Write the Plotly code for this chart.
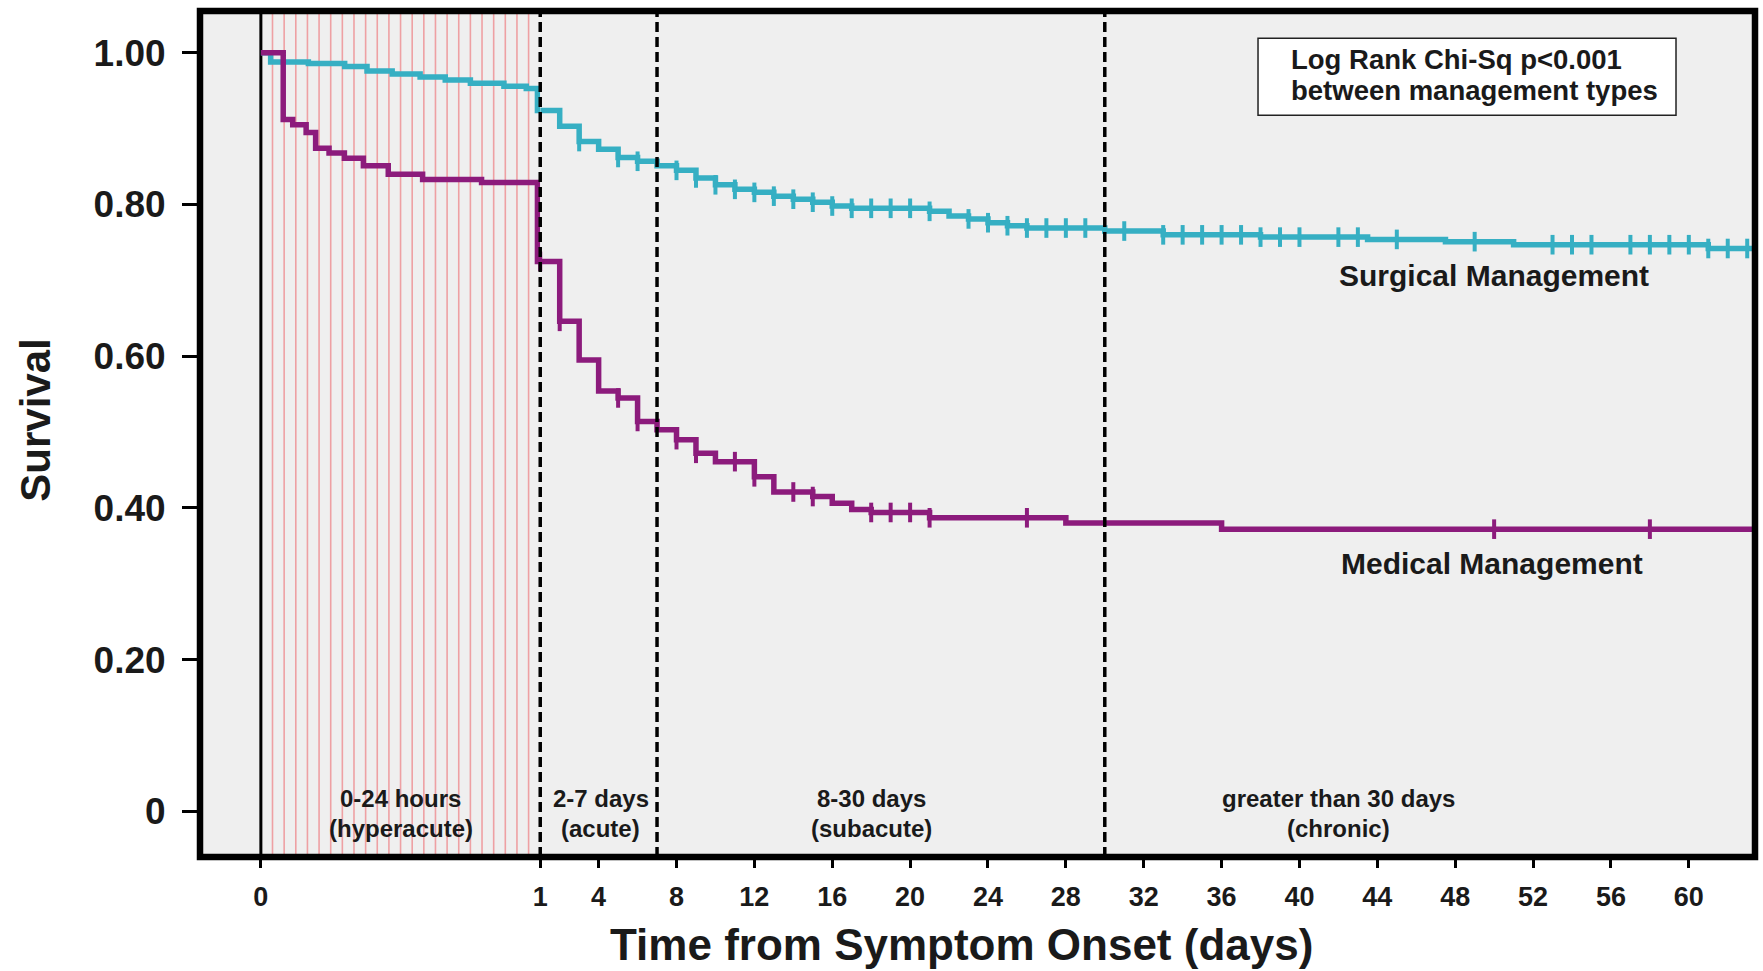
import plotly.graph_objects as go

# ---- Kaplan-Meier estimates: step times (days) and survival after each step ----
surg_times = [0, 0.035, 0.17, 0.30, 0.38, 0.47, 0.57, 0.66, 0.75, 0.87, 0.95, 0.99,
              2, 3, 4, 5, 6, 7, 8, 9, 10, 11, 12, 13, 14, 15, 16, 17,
              21, 22, 23, 24, 25, 26, 30, 33, 38, 43.5, 47.5, 51, 61]
surg_surv = [1.0, 0.988, 0.986, 0.982, 0.976, 0.972, 0.968, 0.964, 0.960, 0.956, 0.953, 0.924,
             0.903, 0.883, 0.873, 0.862, 0.857, 0.851, 0.845, 0.835, 0.826, 0.820, 0.816, 0.811,
             0.807, 0.803, 0.798, 0.795,
             0.791, 0.785, 0.781, 0.776, 0.772, 0.769, 0.765, 0.760, 0.757, 0.754, 0.751, 0.747, 0.742]
surg_censored = [3, 5, 6, 8, 9, 10, 11, 12, 13, 14, 15, 16, 17, 18, 19, 20, 21, 23, 24, 25,
                 26, 27, 28, 29, 31, 33, 34, 35, 36, 37, 38, 39, 40, 42, 43, 45, 49, 53, 54,
                 55, 57, 58, 59, 60, 61, 62, 63]

med_times = [0, 0.08, 0.114, 0.162, 0.196, 0.244, 0.299, 0.367, 0.456, 0.579, 0.79, 0.99,
             2, 3, 4, 5, 6, 7, 8, 9, 10, 12, 13, 15, 16, 17, 18, 21, 28, 36]
med_surv = [1.0, 0.912, 0.905, 0.895, 0.874, 0.868, 0.861, 0.851, 0.840, 0.833, 0.829, 0.725,
            0.646, 0.595, 0.554, 0.545, 0.514, 0.503, 0.490, 0.472, 0.461, 0.441, 0.421, 0.415,
            0.406, 0.398, 0.394, 0.387, 0.380, 0.372]
med_censored = [1, 2, 5, 6, 8, 9, 11, 12, 14, 15, 18, 19, 20, 21, 26, 50, 58]

follow_up_end = 63.4

# ---- axis ticks ----
y_ticks = [0, 0.2, 0.4, 0.6, 0.8, 1.0]
y_tick_labels = ["0", "0.20", "0.40", "0.60", "0.80", "1.00"]
day1_ticks = [0, 1]
day1_tick_labels = ["0", "1"]
later_ticks = [4, 8, 12, 16, 20, 24, 28, 32, 36, 40, 44, 48, 52, 56, 60]

# ---- phase labels ----
phase_names = ["0-24 hours", "2-7 days", "8-30 days", "greater than 30 days"]
phase_subtitles = ["(hyperacute)", "(acute)", "(subacute)", "(chronic)"]
phase_centers = [0.5, 4.1, 18.0, 42.0]
phase_bounds = [1, 7, 30]

SURG_COLOR = "#36afc3"
MED_COLOR = "#8c1b7c"
TEXT_COLOR = "#1a1a1a"
FONT = "Liberation Sans, Arial, sans-serif"
Y_RANGE = [-0.0602, 1.0551]


def surv_at(times, surv, t):
    """Right-continuous step-function value at time t."""
    val = surv[0]
    for ti, si in zip(times, surv):
        if ti <= t:
            val = si
    return val


def bold(size):
    return dict(family=FONT, size=size, color=TEXT_COLOR, weight="bold")


fig = go.Figure()


def add_curve(times, surv, censored, color):
    n1 = sum(1 for t in times if t <= 1)
    # first 24 hours on the stretched axis
    xa = times[:n1] + [1.0]
    ya = surv[:n1] + [surv[n1 - 1]]
    fig.add_trace(go.Scatter(x=xa, y=ya, mode="lines", xaxis="x", yaxis="y",
                             line=dict(color=color, width=5.5, shape="hv"),
                             showlegend=False, hoverinfo="skip"))
    # day 1 onwards
    xb = [1.0] + times[n1:] + [follow_up_end]
    yb = [surv[n1 - 1]] + surv[n1:] + [surv[-1]]
    fig.add_trace(go.Scatter(x=xb, y=yb, mode="lines", xaxis="x2", yaxis="y",
                             line=dict(color=color, width=5.5, shape="hv"),
                             showlegend=False, hoverinfo="skip"))
    # censoring ticks
    cy = [surv_at(times, surv, c) for c in censored]
    fig.add_trace(go.Scatter(x=censored, y=cy, mode="markers", xaxis="x2", yaxis="y",
                             marker=dict(symbol="line-ns", size=14,
                                         line=dict(width=4, color=color)),
                             cliponaxis=False, showlegend=False, hoverinfo="skip"))


add_curve(surg_times, surg_surv, surg_censored, SURG_COLOR)
add_curve(med_times, med_surv, med_censored, MED_COLOR)

shapes = []
# hourly guide lines through the hyperacute period
for h in range(1, 24):
    shapes.append(dict(type="line", xref="x", yref="y", x0=h / 24, x1=h / 24,
                       y0=Y_RANGE[0], y1=Y_RANGE[1],
                       line=dict(color="#eea0a3", width=1.6), layer="below"))
# symptom onset
shapes.append(dict(type="line", xref="x", yref="y", x0=0, x1=0, y0=Y_RANGE[0], y1=Y_RANGE[1],
                   line=dict(color="black", width=3), layer="below"))
# phase boundaries
shapes.append(dict(type="line", xref="x domain", yref="y domain", x0=1, x1=1, y0=0, y1=1,
                   line=dict(color="black", width=3.5, dash="10px,5px"), layer="above"))
for b in phase_bounds[1:]:
    shapes.append(dict(type="line", xref="x2", yref="y", x0=b, x1=b,
                       y0=Y_RANGE[0], y1=Y_RANGE[1],
                       line=dict(color="black", width=3.5, dash="10px,5px"), layer="above"))
# frame
shapes.append(dict(type="rect", xref="paper", yref="paper", x0=0, x1=1, y0=0, y1=1,
                   line=dict(color="black", width=6.5), fillcolor="rgba(0,0,0,0)", layer="above"))
# statistics box
shapes.append(dict(type="rect", xref="paper", yref="paper", x0=0.6804, x1=0.9492,
                   y0=0.8769, y1=0.9679, line=dict(color="#222", width=1.5),
                   fillcolor="white", layer="above"))

annotations = []
for name, sub, xc in zip(phase_names, phase_subtitles, phase_centers):
    xr = "x" if xc <= 1 else "x2"
    annotations.append(dict(text=name, x=xc, y=0.0163, xref=xr, yref="y", showarrow=False,
                            font=bold(24), xanchor="center", yanchor="middle"))
    annotations.append(dict(text=sub, x=xc, y=-0.0223, xref=xr, yref="y", showarrow=False,
                            font=bold(24), xanchor="center", yanchor="middle"))
annotations += [
    dict(text="Surgical Management", x=50.0, y=0.706, xref="x2", yref="y", showarrow=False,
         font=bold(30), xanchor="center", yanchor="middle"),
    dict(text="Medical Management", x=49.9, y=0.327, xref="x2", yref="y", showarrow=False,
         font=bold(30), xanchor="center", yanchor="middle"),
    dict(text="Log Rank Chi-Sq p<0.001", x=0.7005, y=0.9425, xref="paper", yref="paper",
         xanchor="left", yanchor="middle", showarrow=False, font=bold(27.5)),
    dict(text="between management types", x=0.7005, y=0.9063, xref="paper", yref="paper",
         xanchor="left", yanchor="middle", showarrow=False, font=bold(27.5)),
    dict(text="Survival", x=-0.1055, y=0.5168, xref="paper", yref="paper", textangle=-90,
         xanchor="center", yanchor="middle", showarrow=False, font=bold(42)),
    dict(text="Time from Symptom Onset (days)", x=0.490, y=-0.1035, xref="paper", yref="paper",
         xanchor="center", yanchor="middle", showarrow=False, font=bold(44)),
]

tick_font_x = bold(27)
tick_font_y = bold(37)

fig.update_layout(
    width=1763, height=971,
    margin=dict(l=200, r=8, t=11, b=114, autoexpand=False),
    paper_bgcolor="white", plot_bgcolor="#efefef",
    font=dict(family=FONT, color=TEXT_COLOR),
    showlegend=False,
    shapes=shapes, annotations=annotations,
    xaxis=dict(domain=[0, 0.2188], range=[-0.2179, 1], tickvals=day1_ticks,
               ticktext=day1_tick_labels, ticks="outside", ticklen=10, tickwidth=2.5,
               tickcolor="black", tickfont=tick_font_x, showgrid=False, zeroline=False,
               showline=False, anchor="y", fixedrange=True, automargin=False,
               ticklabelstandoff=6),
    xaxis2=dict(domain=[0.2188, 1], range=[1, follow_up_end], tickvals=later_ticks,
                ticks="outside", ticklen=10, tickwidth=2.5, tickcolor="black",
                tickfont=tick_font_x, showgrid=False, zeroline=False, showline=False,
                anchor="y", fixedrange=True, automargin=False, ticklabelstandoff=6),
    yaxis=dict(range=Y_RANGE, tickvals=y_ticks, ticktext=y_tick_labels, ticks="outside",
               ticklen=17, tickwidth=2.5, tickcolor="black", tickfont=tick_font_y,
               showgrid=False, zeroline=False, showline=False, ticklabelstandoff=9,
               fixedrange=True, automargin=False),
)

fig.write_html("out.html")
